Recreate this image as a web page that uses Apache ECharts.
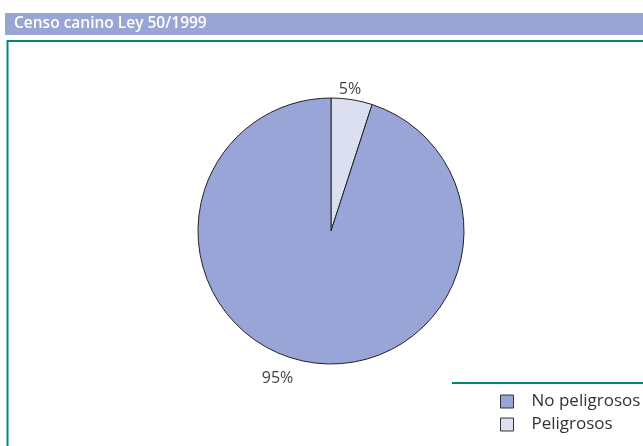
<!DOCTYPE html>
<html>
<head>
<meta charset="utf-8">
<script src="https://cdn.jsdelivr.net/npm/echarts@6/dist/echarts.min.js"></script>
<style>
html,body{margin:0;padding:0;background:#fff;}
#chart{width:643px;height:446px;}
</style>
</head>
<body>
<div id="chart"></div>
<script>
var categories = ['Peligrosos', 'No peligrosos'];
var values = [5, 95];
var legendOrder = ['No peligrosos', 'Peligrosos'];
var colors = ['#DCDFF0', '#99A5D6'];

var chart = echarts.init(document.getElementById('chart'));

var pieData = [];
for (var i = 0; i < categories.length; i++) {
    pieData.push({ name: categories[i], value: values[i], itemStyle: { color: colors[i] } });
}

// desplazamiento de las etiquetas respecto a la posicion por defecto
var labelShift = [[-19, -4], [-11, 10]];

var option = {
    animation: false,
    textStyle: { fontFamily: 'Open Sans' },
    graphic: [
        // barra del titulo
        { type: 'rect', shape: { x: 5, y: 13, width: 640, height: 22 }, style: { fill: '#99A5D4' } },
        { type: 'text', left: 14, top: 16, style: { text: 'Censo canino Ley 50/1999', fill: '#fff', font: '600 15.5px "Open Sans"' } },
        // marco verde
        { type: 'polyline', shape: { points: [[7.5, 446], [7.5, 41], [643, 41]] }, style: { stroke: '#00896F', lineWidth: 2, fill: null } },
        { type: 'line', shape: { x1: 452, y1: 383, x2: 643, y2: 383 }, style: { stroke: '#00896F', lineWidth: 2 } }
    ],
    legend: {
        data: legendOrder,
        orient: 'vertical',
        left: 495,
        top: 388,
        itemWidth: 13,
        itemHeight: 13,
        itemGap: 6,
        icon: 'rect',
        itemStyle: { borderColor: '#333', borderWidth: 1 },
        textStyle: { fontSize: 17, color: '#333', fontFamily: 'Open Sans', padding: [0, 0, 0, 13] }
    },
    series: [{
        type: 'pie',
        center: [331, 231],
        radius: 133,
        startAngle: 90,
        clockwise: true,
        itemStyle: { borderColor: '#222', borderWidth: 1 },
        label: {
            show: true,
            position: 'outside',
            formatter: '{d}%',
            fontSize: 16,
            color: '#444',
            fontFamily: 'Open Sans'
        },
        labelLine: { show: false, length: 6, length2: 0 },
        labelLayout: function (p) {
            var s = labelShift[p.dataIndex];
            return { dx: s[0], dy: s[1] };
        },
        emphasis: { disabled: true },
        data: pieData
    }]
};

chart.setOption(option);
</script>
</body>
</html>
